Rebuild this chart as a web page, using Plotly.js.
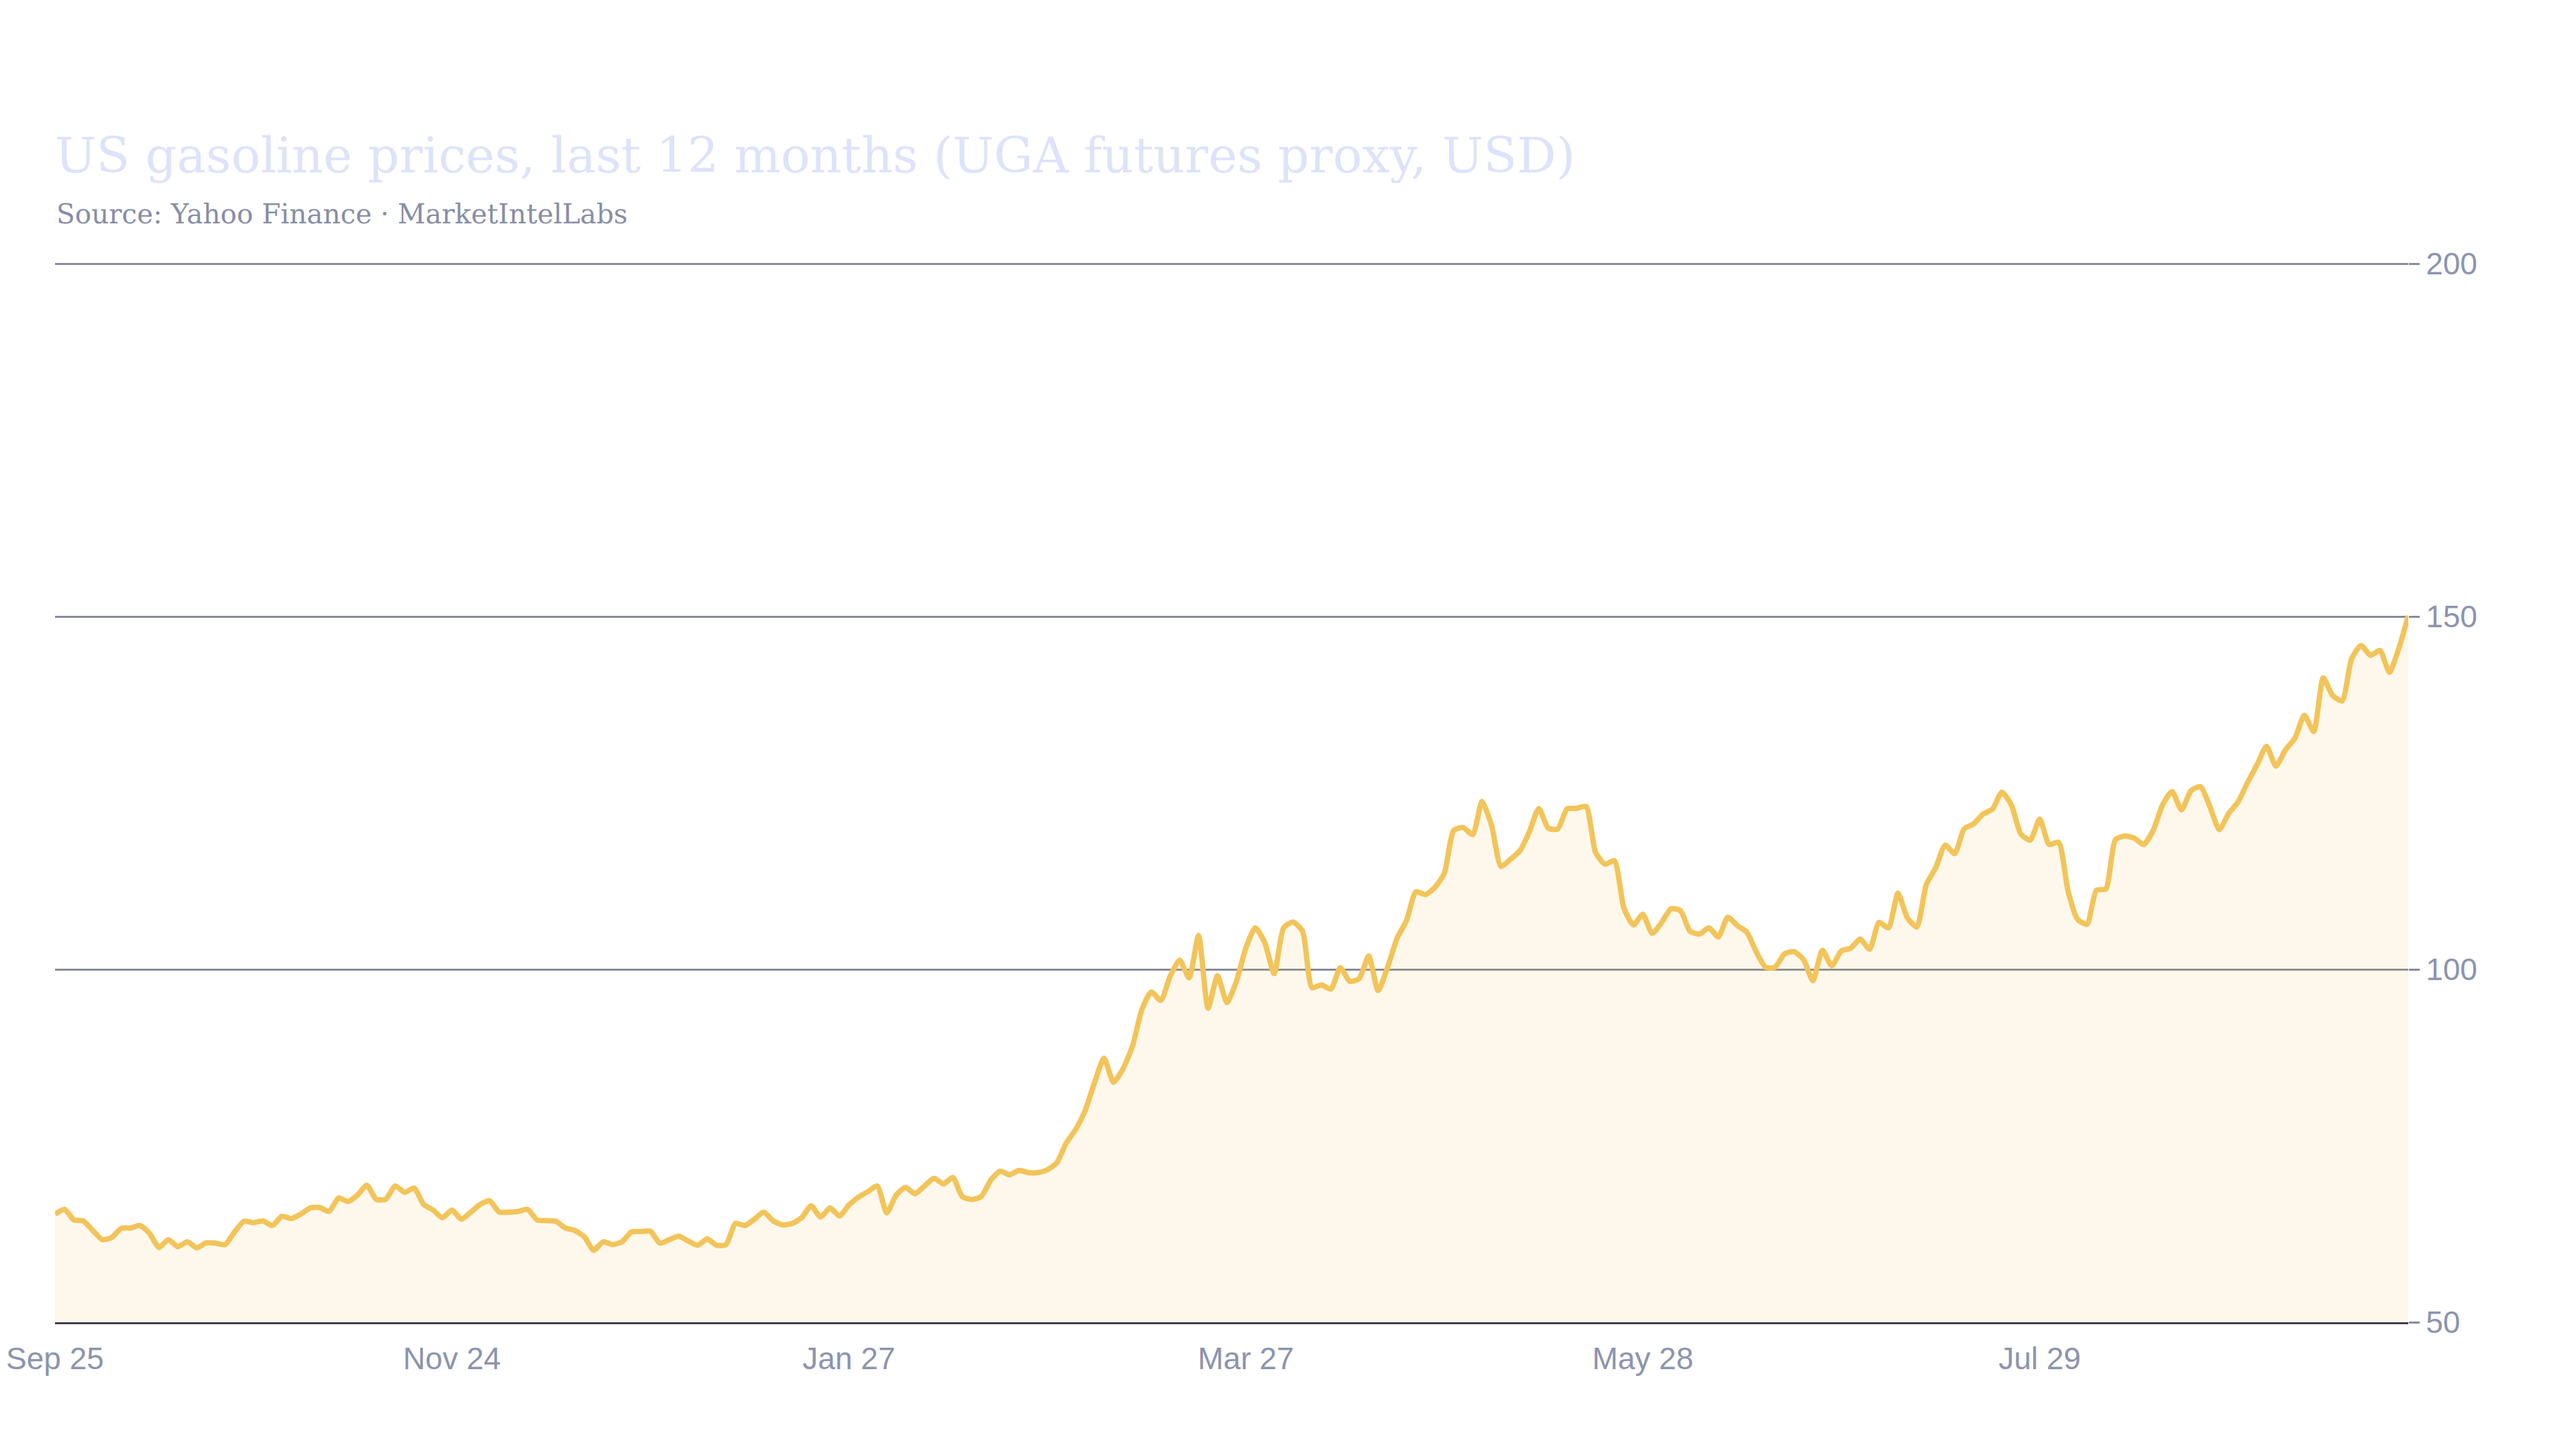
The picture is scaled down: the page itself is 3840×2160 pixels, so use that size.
<!DOCTYPE html>
<html>
<head>
<meta charset="utf-8">
<script src="https://cdn.plot.ly/plotly-3.0.1.min.js"></script>
<style>
  html, body { margin: 0; padding: 0; background: #ffffff; }
  #chart { width: 3840px; height: 2160px; }
</style>
</head>
<body>
<div id="chart"></div>
<script>
// daily closes, Sep 25 -> late Sep (trading days)
var prices = [
  65.3, 66.0, 64.5, 64.35, 63.0, 61.7, 62.0, 63.3, 63.35, 63.7,
  62.6, 60.6, 61.7, 60.7, 61.4, 60.55, 61.25, 61.2, 61.0, 62.8,
  64.3, 64.1, 64.35, 63.7, 65.0, 64.7, 65.3, 66.2, 66.25, 65.7,
  67.6, 67.1, 68.0, 69.4, 67.4, 67.45, 69.3, 68.4, 69.0, 66.7,
  65.9, 64.8, 65.9, 64.6, 65.6, 66.7, 67.2, 65.6, 65.6, 65.7,
  66.0, 64.5, 64.4, 64.3, 63.35, 63.0, 62.1, 60.2, 61.4, 61.0,
  61.4, 62.8, 62.85, 62.9, 61.2, 61.7, 62.2, 61.5, 60.9, 61.8,
  60.9, 61.0, 64.0, 63.7, 64.6, 65.6, 64.35, 63.8, 64.0, 64.8,
  66.5, 64.9, 66.2, 65.05, 66.6, 67.7, 68.5, 69.3, 65.5, 68.0,
  69.1, 68.2, 69.3, 70.4, 69.6, 70.5, 67.8, 67.4, 67.8, 70.1,
  71.4, 70.9, 71.5, 71.2, 71.2, 71.6, 72.6, 75.4, 77.3, 80.0,
  84.0, 87.4, 84.0, 85.9, 89.1, 94.3, 96.8, 95.6, 99.05, 101.3,
  98.8, 104.8, 94.5, 99.1, 95.3, 98.3, 103.0, 105.9, 103.8, 99.4,
  105.9, 106.7, 105.4, 97.4, 97.8, 97.2, 100.25, 98.3, 98.7, 101.9,
  97.0, 100.3, 104.4, 106.9, 111.0, 110.6, 111.6, 113.6, 119.7, 120.1,
  119.1, 123.8, 120.4, 114.6, 115.6, 116.8, 119.5, 122.8, 120.0, 119.9,
  122.75, 122.8, 123.1, 116.6, 114.9, 115.4, 108.7, 106.3, 107.8, 105.1,
  106.65, 108.6, 108.3, 105.4, 105.0, 105.9, 104.6, 107.4, 106.2, 105.3,
  102.5, 100.3, 100.3, 102.2, 102.5, 101.4, 98.4, 102.7, 100.5, 102.6,
  103.0, 104.3, 102.85, 106.65, 105.9, 110.8, 107.3, 106.0, 112.0, 114.4,
  117.6, 116.4, 119.9, 120.6, 122.0, 122.7, 125.1, 123.3, 119.2, 118.3,
  121.3, 117.7, 118.0, 111.1, 107.1, 106.4, 111.2, 111.4, 118.35, 118.9,
  118.6, 117.7, 119.65, 123.3, 125.2, 122.6, 125.3, 125.9, 123.1, 119.8,
  122.1, 123.75, 126.5, 129.0, 131.6, 128.8, 131.1, 132.75, 136.0, 133.7,
  141.3, 138.8, 138.05, 144.0, 145.9, 144.5, 145.2, 142.1, 145.5, 150.1
];

// x tick labels sit every 42 trading days
var tickIdx = [0, 42, 84, 126, 168, 210];
var tickLabels = ['Sep 25', 'Nov 24', 'Jan 27', 'Mar 27', 'May 28', 'Jul 29'];

var yTicks = [50, 100, 150, 200];

var days = prices.map(function (p, i) { return i; });

var trace = {
  x: days,
  y: prices,
  type: 'scatter',
  mode: 'lines',
  fill: 'tozeroy',
  fillcolor: 'rgba(242, 195, 91, 0.12)',
  line: {
    color: '#f2c45a',
    width: 8,
    shape: 'spline',
    smoothing: 0.6
  },
  hoverinfo: 'x+y'
};

var tickFont = {
  family: '"Liberation Sans", Arial, sans-serif',
  size: 46,
  color: '#8c94ae'
};

var layout = {
  width: 3840,
  height: 2160,
  autosize: false,
  paper_bgcolor: '#ffffff',
  plot_bgcolor: '#ffffff',
  showlegend: false,
  margin: { l: 82, r: 250, t: 392, b: 189, pad: 0 },
  title: {
    text: 'US gasoline prices, last 12 months (UGA futures proxy, USD)',
    font: { family: '"DejaVu Serif", serif', size: 73, color: '#dde3fa' },
    x: 0,
    xref: 'paper',
    xanchor: 'left',
    y: 0.893,
    yref: 'container',
    yanchor: 'middle'
  },
  annotations: [{
    text: 'Source: Yahoo Finance · MarketIntelLabs',
    font: { family: '"DejaVu Serif", serif', size: 40.5, color: '#878ea6' },
    x: 0,
    xref: 'paper',
    xanchor: 'left',
    y: 1.0462,
    yref: 'paper',
    yanchor: 'middle',
    showarrow: false
  }],
  xaxis: {
    range: [0, prices.length - 1],
    tickvals: tickIdx,
    ticktext: tickLabels,
    tickfont: tickFont,
    ticklabelstandoff: 12,
    showgrid: false,
    zeroline: false,
    showline: true,
    linecolor: '#3e3e4c',
    linewidth: 3,
    ticks: '',
    fixedrange: true
  },
  yaxis: {
    side: 'right',
    range: [50, 200.1],
    tickvals: yTicks,
    tickfont: tickFont,
    showgrid: true,
    gridcolor: '#878a9a',
    gridwidth: 2.5,
    zeroline: false,
    showline: false,
    ticks: 'outside',
    ticklen: 16,
    tickwidth: 2.5,
    tickcolor: '#878a9a',
    fixedrange: true
  }
};

var config = {
  responsive: false,
  displayModeBar: false
};

Plotly.newPlot('chart', [trace], layout, config);
</script>
</body>
</html>
